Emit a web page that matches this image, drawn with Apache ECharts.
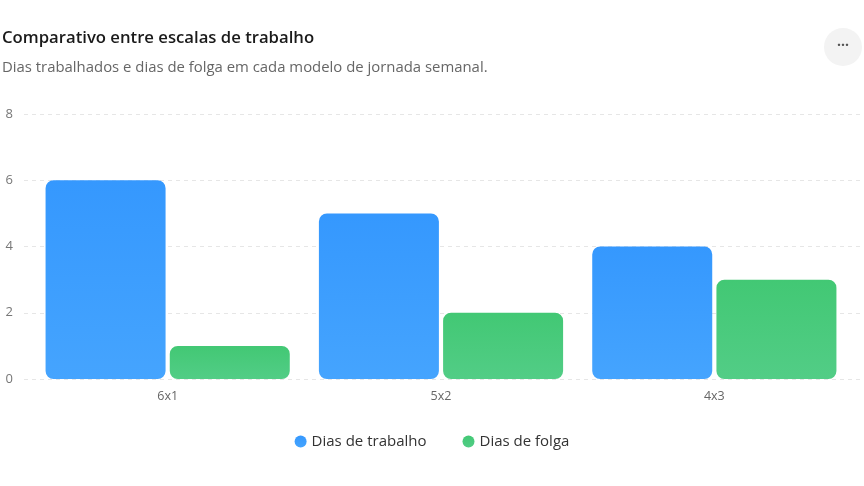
<!DOCTYPE html>
<html>
<head>
<meta charset="utf-8">
<script src="https://cdn.jsdelivr.net/npm/echarts@6/dist/echarts.min.js"></script>
<style>
html,body{margin:0;padding:0;background:#fff;}
#chart{width:864px;height:486px;}
</style>
</head>
<body>
<div id="chart"></div>
<script>
const categories = ['6x1', '5x2', '4x3'];
const diasTrabalho = [6, 5, 4];
const diasFolga = [1, 2, 3];
const seriesNames = ['Dias de trabalho', 'Dias de folga'];
const yTicks = [0, 2, 4, 6, 8];

const FONT = '"Open Sans", "Noto Sans", sans-serif';
const chart = echarts.init(document.getElementById('chart'));

function grad(top, bottom) {
  return new echarts.graphic.LinearGradient(0, 0, 0, 1, [
    { offset: 0, color: top },
    { offset: 1, color: bottom }
  ]);
}

chart.setOption({
  backgroundColor: '#fff',
  textStyle: { fontFamily: FONT },
  title: {
    text: 'Comparativo entre escalas de trabalho',
    subtext: 'Dias trabalhados e dias de folga em cada modelo de jornada semanal.',
    left: -3,
    top: 25,
    itemGap: 13,
    textStyle: { fontFamily: FONT, fontSize: 16.7, fontWeight: 600, color: '#1a1a1a' },
    subtextStyle: { fontFamily: FONT, fontSize: 14.9, color: '#666' }
  },
  graphic: [
    { type: 'circle', shape: { cx: 843, cy: 47, r: 19 }, style: { fill: '#f3f3f3' } },
    { type: 'text', x: 843, y: 46, style: { text: '···', fill: '#555', font: 'bold 14px ' + FONT, textAlign: 'center', textVerticalAlign: 'middle' } }
  ],
  legend: {
    data: seriesNames,
    bottom: 32,
    left: 'center',
    icon: 'circle',
    itemWidth: 12,
    itemHeight: 12,
    itemGap: 36,
    textStyle: { fontFamily: FONT, fontSize: 15, color: '#333' }
  },
  grid: [
    { left: 31, right: 13, top: 114, bottom: 107, containLabel: false },
    { left: 24, right: 4, top: 114, bottom: 107, containLabel: false }
  ],
  xAxis: [
    {
      type: 'category',
      data: categories,
      gridIndex: 0,
      axisLine: { show: false },
      axisTick: { show: false },
      axisLabel: { color: '#666', fontSize: 12.5, margin: 11, fontFamily: FONT }
    },
    { type: 'value', gridIndex: 1, show: false }
  ],
  yAxis: [
    {
      type: 'value',
      gridIndex: 0,
      min: yTicks[0],
      max: yTicks[yTicks.length - 1],
      interval: 2,
      axisLine: { show: false },
      axisTick: { show: false },
      axisLabel: { color: '#777', fontSize: 13, margin: 18, fontFamily: FONT },
      splitLine: { show: false }
    },
    {
      type: 'value',
      gridIndex: 1,
      min: yTicks[0],
      max: yTicks[yTicks.length - 1],
      interval: 2,
      axisLine: { show: false },
      axisTick: { show: false },
      axisLabel: { show: false },
      splitLine: { lineStyle: { color: '#e6e6e6', type: [4, 4] } }
    }
  ],
  series: [
    {
      name: seriesNames[0],
      type: 'bar',
      data: diasTrabalho,
      barWidth: 120,
      barGap: '3.5%',
      z: 3,
      itemStyle: { color: grad('#3598fe', '#45a4fe'), borderRadius: 8 }
    },
    {
      name: seriesNames[1],
      type: 'bar',
      data: diasFolga,
      barWidth: 120,
      z: 3,
      itemStyle: { color: grad('#42c874', '#52cd86'), borderRadius: 8 }
    }
  ]
});
</script>
</body>
</html>
